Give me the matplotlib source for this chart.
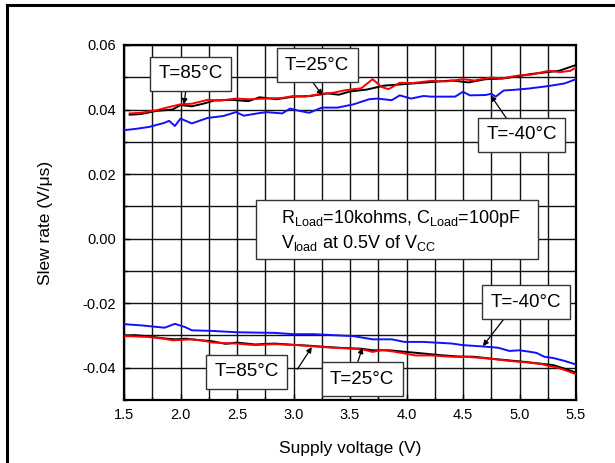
import matplotlib
matplotlib.use("Agg")
import matplotlib.pyplot as plt
from matplotlib.lines import Line2D
from matplotlib.patches import Rectangle
from matplotlib.ticker import MultipleLocator

plt.rcParams['font.family'] = ['Liberation Sans', 'DejaVu Sans']
plt.rcParams['mathtext.fontset'] = 'custom'
plt.rcParams['mathtext.rm'] = 'Liberation Sans'
plt.rcParams['mathtext.it'] = 'Liberation Sans'

# ---- data ----
# rising slew rate (positive)
x_pos_red = [1.55, 1.65, 1.79, 1.9, 2.0, 2.1, 2.24, 2.35, 2.49, 2.6, 2.76, 2.9, 3.0, 3.1, 3.25, 3.35, 3.46, 3.6, 3.7, 3.78, 3.84, 3.94, 4.05, 4.22, 4.35, 4.5, 4.6, 4.74, 4.85, 5.0, 5.1, 5.26, 5.36, 5.45, 5.5]
y_pos_red = [0.0388, 0.0390, 0.0398, 0.0408, 0.0416, 0.0418, 0.0430, 0.0428, 0.0434, 0.0432, 0.0434, 0.0436, 0.0442, 0.0440, 0.0449, 0.0452, 0.0460, 0.0466, 0.0494, 0.0470, 0.0463, 0.0483, 0.0482, 0.0489, 0.0487, 0.0494, 0.0490, 0.0499, 0.0497, 0.0506, 0.0508, 0.0520, 0.0516, 0.0520, 0.0530]

x_pos_black = [1.55, 1.65, 1.79, 1.93, 2.0, 2.1, 2.2, 2.3, 2.45, 2.6, 2.7, 2.85, 3.0, 3.15, 3.3, 3.4, 3.5, 3.65, 3.8, 3.95, 4.1, 4.25, 4.4, 4.55, 4.7, 4.85, 5.0, 5.1, 5.25, 5.35, 5.45, 5.5]
y_pos_black = [0.0384, 0.0386, 0.0396, 0.0400, 0.0414, 0.0410, 0.0418, 0.0428, 0.0430, 0.0426, 0.0438, 0.0432, 0.0440, 0.0442, 0.0450, 0.0446, 0.0456, 0.0462, 0.0474, 0.0478, 0.0482, 0.0486, 0.0490, 0.0484, 0.0494, 0.0496, 0.0504, 0.0510, 0.0516, 0.0520, 0.0532, 0.0538]

x_pos_blue = [1.5, 1.6, 1.72, 1.85, 1.9, 1.95, 2.0, 2.1, 2.24, 2.38, 2.49, 2.56, 2.68, 2.76, 2.9, 2.97, 3.05, 3.14, 3.25, 3.39, 3.53, 3.67, 3.74, 3.87, 3.94, 4.04, 4.15, 4.22, 4.43, 4.5, 4.56, 4.7, 4.75, 4.79, 4.86, 4.95, 5.08, 5.26, 5.4, 5.5]
y_pos_blue = [0.0336, 0.0340, 0.0346, 0.0358, 0.0365, 0.0349, 0.0372, 0.0357, 0.0374, 0.0380, 0.0392, 0.0381, 0.0388, 0.0392, 0.0388, 0.0403, 0.0396, 0.0390, 0.0406, 0.0406, 0.0416, 0.0432, 0.0434, 0.0429, 0.0444, 0.0434, 0.0442, 0.0440, 0.0440, 0.0455, 0.0444, 0.0445, 0.0449, 0.0440, 0.0459, 0.0461, 0.0465, 0.0473, 0.0481, 0.0494]

# falling slew rate (negative)
x_neg_red = [1.5, 1.6, 1.72, 1.85, 1.93, 2.0, 2.1, 2.2, 2.28, 2.49, 2.66, 2.83, 3.04, 3.18, 3.35, 3.53, 3.62, 3.7, 3.79, 3.94, 4.08, 4.22, 4.4, 4.56, 4.74, 4.91, 5.08, 5.2, 5.26, 5.32, 5.4, 5.5]
y_neg_red = [-0.0302, -0.0303, -0.0305, -0.0310, -0.0315, -0.0314, -0.0312, -0.0316, -0.0322, -0.0325, -0.0330, -0.0327, -0.0330, -0.0334, -0.0338, -0.0341, -0.0344, -0.0351, -0.0345, -0.0353, -0.0362, -0.0362, -0.0366, -0.0367, -0.0372, -0.0379, -0.0384, -0.0389, -0.0395, -0.0398, -0.0407, -0.0420]

x_neg_black = [1.5, 1.6, 1.72, 1.85, 1.95, 2.05, 2.15, 2.28, 2.4, 2.5, 2.66, 2.83, 3.0, 3.15, 3.3, 3.45, 3.6, 3.7, 3.85, 4.0, 4.15, 4.3, 4.45, 4.6, 4.75, 4.9, 5.05, 5.2, 5.3, 5.4, 5.5]
y_neg_black = [-0.0300, -0.0299, -0.0303, -0.0309, -0.0312, -0.0310, -0.0314, -0.0318, -0.0326, -0.0322, -0.0328, -0.0325, -0.0329, -0.0332, -0.0336, -0.0339, -0.0341, -0.0346, -0.0346, -0.0351, -0.0356, -0.0361, -0.0365, -0.0366, -0.0372, -0.0377, -0.0382, -0.0388, -0.0392, -0.0403, -0.0415]

x_neg_blue = [1.5, 1.66, 1.86, 1.95, 2.04, 2.1, 2.28, 2.49, 2.65, 2.83, 3.0, 3.18, 3.35, 3.53, 3.7, 3.87, 3.98, 4.15, 4.3, 4.4, 4.5, 4.67, 4.81, 4.91, 5.0, 5.08, 5.15, 5.22, 5.3, 5.4, 5.5]
y_neg_blue = [-0.0265, -0.0269, -0.0276, -0.0264, -0.0274, -0.0284, -0.0286, -0.0290, -0.0291, -0.0292, -0.0296, -0.0296, -0.0299, -0.0302, -0.0312, -0.0312, -0.0320, -0.0320, -0.0323, -0.0325, -0.0330, -0.0334, -0.0338, -0.0348, -0.0346, -0.0350, -0.0354, -0.0366, -0.0370, -0.0379, -0.0390]

x_ticks = [1.5, 2.0, 2.5, 3.0, 3.5, 4.0, 4.5, 5.0, 5.5]
y_ticks = [-0.04, -0.02, 0.00, 0.02, 0.04, 0.06]

# ---- figure ----
fig = plt.figure(figsize=(6.15, 4.63), dpi=100)
ax = fig.add_axes([124/615, 1-400/463, 452/615, 355/463])

for xs, ys, c in [(x_pos_black, y_pos_black, 'black'), (x_pos_red, y_pos_red, '#ff0000'),
                  (x_pos_blue, y_pos_blue, '#1010ff'),
                  (x_neg_black, y_neg_black, 'black'), (x_neg_red, y_neg_red, '#ff0000'),
                  (x_neg_blue, y_neg_blue, '#1010ff')]:
    ax.plot(xs, ys, color=c, lw=1.4, zorder=3)

ax.set_xlim(1.5, 5.5)
ax.set_ylim(-0.05, 0.06)
ax.set_xticks(x_ticks)
ax.set_xticklabels([f"{v:.1f}" for v in x_ticks])
ax.set_yticks(y_ticks)
ax.set_yticklabels([f"{v:.2f}" for v in y_ticks])
ax.xaxis.set_minor_locator(MultipleLocator(0.25))
ax.yaxis.set_minor_locator(MultipleLocator(0.01))
ax.grid(True, which='both', color='#111111', lw=1.0, zorder=1)
ax.tick_params(which='major', direction='in', length=4, width=1, labelsize=10.5, pad=6)
ax.tick_params(which='minor', direction='in', length=2.5, width=1)
for s in ax.spines.values():
    s.set_linewidth(1.6)
ax.set_axisbelow(True)

ax.set_xlabel("Supply voltage (V)", fontsize=12.5)
ax.set_ylabel("Slew rate (V/μs)", fontsize=12.5)
ax.xaxis.set_label_coords(0.5, -0.115)
ax.yaxis.set_label_coords(-0.157, 0.5)

box = dict(boxstyle='square,pad=0.45', fc='white', ec='#333333', lw=1.0)
arrow = dict(arrowstyle='-|>', color='black', lw=0.9, mutation_scale=8, shrinkA=0, shrinkB=0)

def label(txt, center, tail, head):
    ax.text(center[0], center[1], txt, ha='center', va='center', fontsize=13.5,
            bbox=box, zorder=5)
    ax.annotate('', xy=head, xytext=tail, arrowprops=arrow, zorder=4)

label("T=85°C", (2.09, 0.0511), (2.05, 0.0466), (2.03, 0.0416))
label("T=25°C", (3.21, 0.0537), (3.155, 0.0492), (3.256, 0.0444))
label("T=-40°C", (5.017, 0.0322), (4.894, 0.0368), (4.745, 0.0444))
label("T=-40°C", (5.057, -0.0197), (4.877, -0.0242), (4.676, -0.0333))
label("T=85°C", (2.583, -0.0413), (3.034, -0.0405), (3.162, -0.0336))
label("T=25°C", (3.607, -0.0435), (3.56, -0.0392), (3.61, -0.0338))

# middle info box
ax.add_patch(Rectangle((2.664, -0.0062), 5.16-2.664, 0.0119+0.0062, fc='white',
                       ec='#333333', lw=1.0, zorder=5))
ax.text(2.885, 0.0062, r"R$_{\mathrm{Load}}$=10kohms, C$_{\mathrm{Load}}$=100pF",
        ha='left', va='center', fontsize=13, zorder=6)
ax.text(2.885, -0.0014, r"V$_{\mathrm{load}}$ at 0.5V of V$_{\mathrm{CC}}$",
        ha='left', va='center', fontsize=13, zorder=6)

# outer frame
fig.add_artist(Line2D([7/615, 7/615], [0, 1-5/463], color='black', lw=2.2))
fig.add_artist(Line2D([7/615, 1], [1-5/463, 1-5/463], color='black', lw=2.2))

fig.savefig("out.png", dpi=100)
